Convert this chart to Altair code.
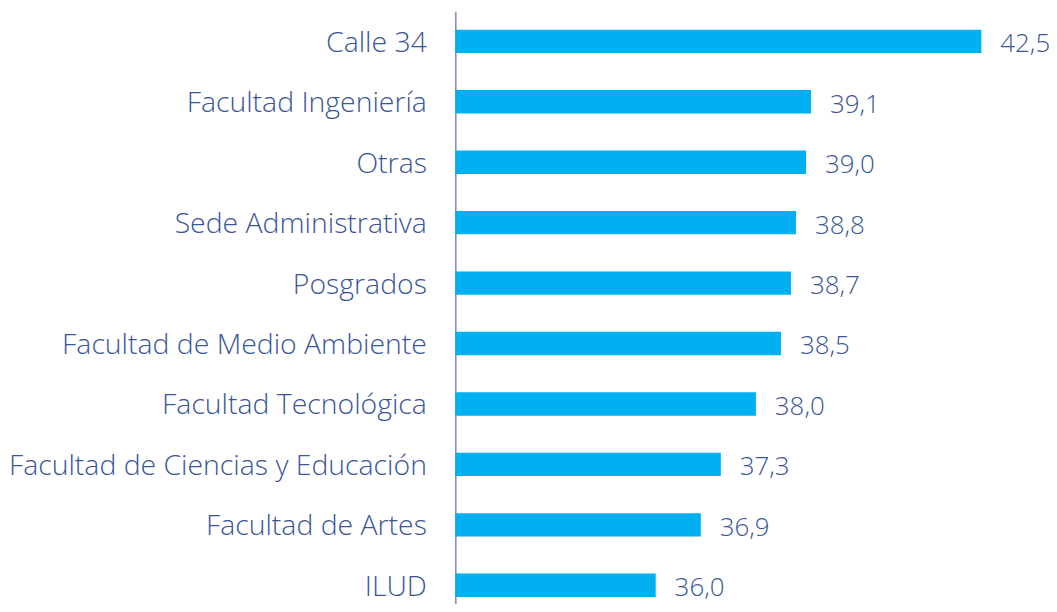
import altair as alt
import pandas as pd

categories = ["Calle 34", "Facultad Ingeniería", "Otras", "Sede Administrativa", "Posgrados",
              "Facultad de Medio Ambiente", "Facultad Tecnológica",
              "Facultad de Ciencias y Educación", "Facultad de Artes", "ILUD"]
values = [42.5, 39.1, 39.0, 38.8, 38.7, 38.5, 38.0, 37.3, 36.9, 36.0]
labels = ["42,5", "39,1", "39,0", "38,8", "38,7", "38,5", "38,0", "37,3", "36,9", "36,0"]
axis_start = 32

df = pd.DataFrame({"cat": categories, "val": values, "lab": labels})

FONT = "Open Sans"
TXT = "#3B5698"

y = alt.Y("cat:N", sort=categories, title=None,
          scale=alt.Scale(paddingInner=0.613, paddingOuter=0.3065, range=[0, 606.7]),
          axis=alt.Axis(domainColor="#8C96B4", domainWidth=1.7, ticks=False,
                        labelFont=FONT, labelFontSize=28.5, labelFontWeight=300,
                        labelColor=TXT, labelPadding=29, labelLimit=500, labelOffset=1.5))
x = alt.X("val:Q", title=None, scale=alt.Scale(domain=[32, 43.85], zero=False, nice=False),
          axis=None)

bars = alt.Chart(df).mark_bar(color="#00B0F0").encode(x=x, x2=alt.datum(axis_start), y=y)
text = alt.Chart(df).mark_text(align="left", baseline="middle", dx=19, dy=3,
                               font=FONT, fontSize=26, fontWeight=300, color=TXT).encode(
    x=x, y=y, text="lab:N")

chart = (bars + text).properties(
    width=596, height=594,
    autosize=alt.AutoSizeParams(type="none"),
    padding={"left": 449, "top": 2, "right": 0, "bottom": 0},
).configure_view(stroke=None)

chart.save("out.html", embed_options={"renderer": "svg", "actions": False})
